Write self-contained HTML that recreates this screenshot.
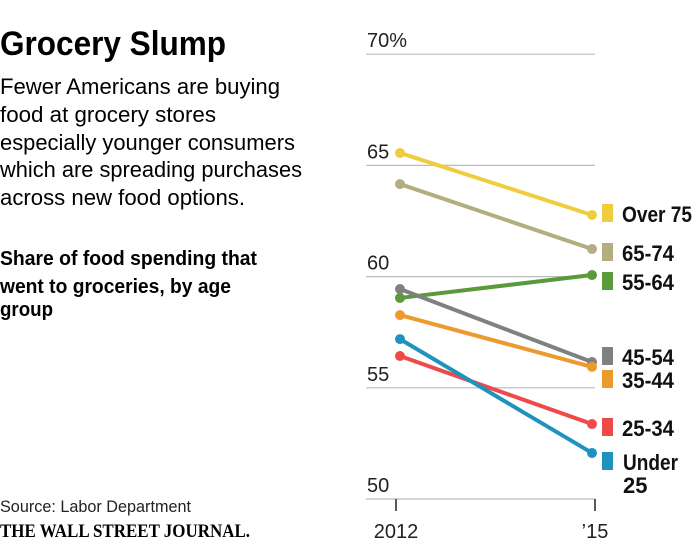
<!DOCTYPE html>
<html><head><meta charset="utf-8"><style>
html,body{margin:0;padding:0;background:#fff;}
svg{display:block;font-family:"Liberation Sans",sans-serif;}
</style></head><body>
<svg id="c" width="700" height="544" viewBox="0 0 700 544">
<g>
<text x="0" y="55" font-size="34" font-weight="bold" textLength="226" lengthAdjust="spacingAndGlyphs">Grocery Slump</text>
<text x="0" y="94" font-size="22" textLength="280" lengthAdjust="spacingAndGlyphs">Fewer Americans are buying</text>
<text x="0" y="122" font-size="22" textLength="216" lengthAdjust="spacingAndGlyphs">food at grocery stores</text>
<text x="0" y="150" font-size="22" textLength="295" lengthAdjust="spacingAndGlyphs">especially younger consumers</text>
<text x="0" y="177" font-size="22" textLength="302" lengthAdjust="spacingAndGlyphs">which are spreading purchases</text>
<text x="0" y="205" font-size="22" textLength="245" lengthAdjust="spacingAndGlyphs">across new food options.</text>
<text x="0" y="265" font-size="20" font-weight="bold" textLength="257" lengthAdjust="spacingAndGlyphs">Share of food spending that</text>
<text x="0" y="293" font-size="20" font-weight="bold" textLength="231" lengthAdjust="spacingAndGlyphs">went to groceries, by age</text>
<text x="0" y="316" font-size="20" font-weight="bold" textLength="53" lengthAdjust="spacingAndGlyphs">group</text>
<text x="0" y="512" font-size="17" fill="#222" textLength="191" lengthAdjust="spacingAndGlyphs">Source: Labor Department</text>
<text x="0" y="537" font-size="19" font-weight="bold" font-family="Liberation Serif, serif" textLength="250" lengthAdjust="spacingAndGlyphs">THE WALL STREET JOURNAL.</text>
</g>
<g id="plot"></g>
</svg>
<script>
const years = ["2012", "\u201915"];
const ticks = [50, 55, 60, 65, 70];
const tickLabels = ["50", "55", "60", "65", "70%"];
const groups = ["Over 75", "65-74", "55-64", "45-54", "35-44", "25-34", "Under 25"];
const start2012 = [65.56, 64.16, 59.04, 59.44, 58.27, 56.43, 57.19];
const end2015 = [62.77, 61.24, 60.07, 56.16, 55.94, 53.37, 52.07];
const colors = ["#f0cd3f", "#b3ad80", "#5a9a3a", "#808080", "#ec9a2e", "#ef4a4a", "#1f93bd"];
const legendY = [214, 253, 282, 357, 380, 428, 462];

const NS = "http://www.w3.org/2000/svg";
const plot = document.getElementById("plot");
const y = v => 499 - (v - 50) * 22.24;
const xPt = i => i === 0 ? 400 : 592;
const xTick = i => i === 0 ? 396 : 595;
function mk(tag, attrs, parent) {
  const e = document.createElementNS(NS, tag);
  for (const k in attrs) e.setAttribute(k, attrs[k]);
  (parent || plot).appendChild(e);
  return e;
}
ticks.forEach((t, i) => {
  const l = mk("line", {x1: 366, x2: 595, y1: y(t), y2: y(t), stroke: "#bbb", "stroke-width": 1.2});
  
  
  const tx = mk("text", {x: 367, y: y(t) - 7, "font-size": 20, fill: "#222"});
  tx.textContent = tickLabels[i];
  
  
});
years.forEach((yr, i) => {
  const l = mk("line", {x1: xTick(i), x2: xTick(i), y1: 499, y2: 511, stroke: "#222", "stroke-width": 1.5});
  
  
  const tx = mk("text", {x: xTick(i), y: 538, "font-size": 20, fill: "#222", "text-anchor": "middle"});
  tx.textContent = yr;
  
  
});
groups.forEach((g, i) => {
  const ln = mk("line", {x1: xPt(0), y1: y(start2012[i]), x2: xPt(1), y2: y(end2015[i]), stroke: colors[i], "stroke-width": 4});
  
  
  [[0, start2012[i]], [1, end2015[i]]].forEach(([k, v]) => {
    const c = mk("circle", {cx: xPt(k), cy: y(v), r: 5, fill: colors[i]});
    
    
  });
  const sq = mk("rect", {x: 602, y: legendY[i] - 10, width: 11, height: 18, fill: colors[i]});
  
  
  const tx = mk("text", {x: 622, y: legendY[i] + 8, "font-size": 22, "font-weight": "bold", fill: "#111"});
  
  
  if (g === "Under 25") {
    const a = mk("tspan", {x: 623, textLength: 55, lengthAdjust: "spacingAndGlyphs"}, tx); a.textContent = "Under";
    const b = mk("tspan", {x: 623, dy: 23}, tx); b.textContent = "25";
  } else {
    tx.setAttribute("textLength", g === "Over 75" ? 70 : 52);
    tx.setAttribute("lengthAdjust", "spacingAndGlyphs");
    tx.textContent = g;
  }
});
</script>
</body></html>
